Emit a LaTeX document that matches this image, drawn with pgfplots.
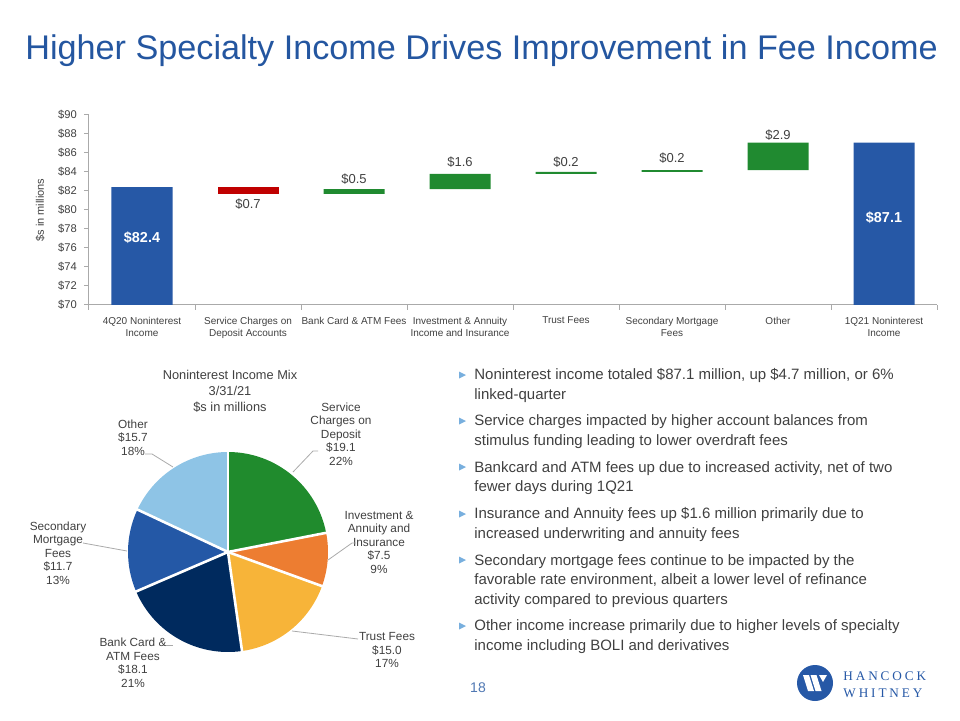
\documentclass[border=0pt]{standalone}
\usepackage{fontspec}
\setmainfont{Liberation Sans}
\newfontfamily\logofont[LetterSpace=22]{Liberation Serif}
\usepackage{pgfplots}
\pgfplotsset{compat=1.18}
\definecolor{titleblue}{RGB}{36,86,160}
\definecolor{barblue}{RGB}{38,88,166}
\definecolor{barred}{RGB}{192,0,0}
\definecolor{bargreen}{RGB}{32,138,48}
\definecolor{txt}{RGB}{64,64,64}
\definecolor{axgray}{RGB}{170,170,170}
\definecolor{pgreen}{RGB}{32,139,45}
\definecolor{porange}{RGB}{237,125,49}
\definecolor{pgold}{RGB}{247,180,57}
\definecolor{pnavy}{RGB}{0,42,94}
\definecolor{pblue}{RGB}{36,88,166}
\definecolor{plight}{RGB}{142,196,230}
\definecolor{bulletc}{RGB}{120,175,222}
\definecolor{leader}{RGB}{170,170,170}
\begin{document}
\begin{tikzpicture}
\path[use as bounding box] (0,0) rectangle (480pt,360pt);
% ---------------- waterfall -----------------
\begin{axis}[
  at={(44.5pt,207.5pt)}, anchor=south west,
  width=424pt, height=95pt, scale only axis,
  xmin=-0.5, xmax=7.5, ymin=70, ymax=90, enlargelimits=false,
  ybar stacked, bar width=30.5pt,
  axis x line*=bottom, axis y line*=left,
  axis line style={axgray, line width=0.5pt},
  ytick={70,72,...,90},
  /pgf/number format/assume math mode=true,
  yticklabel={\$\pgfmathprintnumber{\tick}},
  xtick={0,...,7},
  xticklabels={4Q20 Noninterest\\Income, Service Charges on\\Deposit Accounts, Bank Card \& ATM Fees, Investment \& Annuity\\Income and Insurance, Trust Fees, Secondary Mortgage\\Fees, Other, 1Q21 Noninterest\\Income},
  major x tick style={draw=none},
  minor xtick={-0.5,0.5,...,7.5},
  tick align=outside, major tick length=2.5pt, minor tick length=2.5pt,
  tick style={axgray, line width=0.5pt},
  yticklabel style={font=\fontsize{5.6}{6.5}\selectfont, text=txt},
  xticklabel style={font=\fontsize{5}{6}\selectfont, text=txt, align=center},
  ylabel={\$s in millions},
  ylabel style={font=\fontsize{5.5}{6.5}\selectfont, text=txt},
  after end axis/.code={
    \node[font=\bfseries\fontsize{7.2}{8}\selectfont, text=white] at (axis cs:0,77.05) {\$82.4};
    \node[font=\bfseries\fontsize{7.2}{8}\selectfont, text=white] at (axis cs:7,79.2) {\$87.1};
    \node[font=\fontsize{6.5}{7.5}\selectfont, text=txt] at (axis cs:1,80.6) {\$0.7};
    \node[font=\fontsize{6.5}{7.5}\selectfont, text=txt] at (axis cs:2,83.3) {\$0.5};
    \node[font=\fontsize{6.5}{7.5}\selectfont, text=txt] at (axis cs:3,85.05) {\$1.6};
    \node[font=\fontsize{6.5}{7.5}\selectfont, text=txt] at (axis cs:4,85.05) {\$0.2};
    \node[font=\fontsize{6.5}{7.5}\selectfont, text=txt] at (axis cs:5,85.5) {\$0.2};
    \node[font=\fontsize{6.5}{7.5}\selectfont, text=txt] at (axis cs:6,87.9) {\$2.9};
  },
]
\addplot[fill=none, draw=none] coordinates {(0,0) (1,81.7) (2,81.7) (3,82.2) (4,83.8) (5,84.0) (6,84.2) (7,0)};
\addplot[fill=barblue, draw=none] coordinates {(0,82.4) (1,0) (2,0) (3,0) (4,0) (5,0) (6,0) (7,87.1)};
\addplot[fill=barred, draw=none] coordinates {(0,0) (1,0.7) (2,0) (3,0) (4,0) (5,0) (6,0) (7,0)};
\addplot[fill=bargreen, draw=none] coordinates {(0,0) (1,0) (2,0.5) (3,1.6) (4,0.2) (5,0.2) (6,2.9) (7,0)};
\end{axis}
% ---------------- pie -----------------
\begin{scope}[shift={(114pt,84pt)}, x=0.5pt, y=0.5pt]
\def\total{87.1}
\foreach \v/\c [remember=\e as \s (initially 90)] in {19.1/pgreen, 7.5/porange, 15.0/pgold, 18.1/pnavy, 11.7/pblue, 15.7/plight} {
  \pgfmathsetmacro{\e}{\s - \v/\total*360}
  \fill[\c] (0,0) -- (\s:100) arc[start angle=\s, end angle=\e, radius=100] -- cycle;
}
\foreach \v [remember=\e as \s (initially 90)] in {19.1, 7.5, 15.0, 18.1, 11.7, 15.7} {
  \pgfmathsetmacro{\e}{\s - \v/\total*360}
  \draw[white, line width=1.3pt] (0,0) -- (\s:101);
}
\end{scope}
% ---------------- pixel-space annotations -----------------
\begin{scope}[shift={(0pt,360pt)}, x=0.5pt, y=-0.5pt]
\node[anchor=base west, text=titleblue, font=\fontsize{17.1}{19}\selectfont, inner sep=0pt] at (25,59) {Higher Specialty Income Drives Improvement in Fee Income};
% pie title & labels
\node[align=center, text=txt, font=\fontsize{6.4}{8}\selectfont] at (230,391) {Noninterest Income Mix\\3/31/21\\\$s in millions};
\begin{scope}[every node/.style={align=center, text=txt, font=\fontsize{5.9}{6.75}\selectfont, inner sep=1pt}]
\node at (341,434) {Service\\Charges on\\Deposit\\\$19.1\\22\%};
\node at (379,542) {Investment \&\\Annuity and\\Insurance\\\$7.5\\9\%};
\node at (387,650) {Trust Fees\\\$15.0\\17\%};
\node at (133,663) {Bank Card \&\\ATM Fees\\\$18.1\\21\%};
\node at (58,553) {Secondary\\Mortgage\\Fees\\\$11.7\\13\%};
\node at (133,437.5) {Other\\\$15.7\\18\%};
\end{scope}
\draw[leader, line width=0.4pt] (318,451) -- (313,451) -- (293,472);
\draw[leader, line width=0.4pt] (356,543) -- (352,543) -- (328,560);
\draw[leader, line width=0.4pt] (358,639) -- (292,631);
\draw[leader, line width=0.4pt] (166,645) -- (173,645);
\draw[leader, line width=0.4pt] (83,543) -- (127,551);
\draw[leader, line width=0.4pt] (145,454) -- (152,454) -- (173,467);
% bullets (anchored at the baseline of the last line)
\begin{scope}[every node/.style={anchor=base west, align=left, text=txt, font=\fontsize{7.5}{9.75}\selectfont, inner sep=0pt}]
\node at (474,399) {Noninterest income totaled \$87.1 million, up \$4.7 million, or 6\%\\linked-quarter};
\node at (474,445) {Service charges impacted by higher account balances from\\stimulus funding leading to lower overdraft fees};
\node at (474,491.5) {Bankcard and ATM fees up due to increased activity, net of two\\fewer days during 1Q21};
\node at (474,538) {Insurance and Annuity fees up \$1.6 million primarily due to\\increased underwriting and annuity fees};
\node at (474,604) {Secondary mortgage fees continue to be impacted by the\\favorable rate environment, albeit a lower level of refinance\\activity compared to previous quarters};
\node at (474,650) {Other income increase primarily due to higher levels of specialty\\income including BOLI and derivatives};
\end{scope}
\foreach \yy in {375,421,467,514,560,626} {
  \fill[bulletc] (459,\yy-3.5) -- (466,\yy) -- (459,\yy+3.5) -- cycle;
}
% page number and logo
\node[text=titleblue!80, font=\fontsize{7}{8}\selectfont] at (478,688) {18};
\fill[barblue] (815,683) circle[radius=18];
\fill[white] (803,675) -- (809,675) -- (814,691) -- (808,691) -- cycle;
\fill[white] (810.5,675) -- (816.5,675) -- (821.5,691) -- (815.5,691) -- cycle;
\fill[white] (819,675) -- (827,675) -- (823,682) -- cycle;
\node[anchor=base west, text=barblue, font=\logofont\fontsize{6.6}{7}\selectfont, inner sep=0pt] at (843,680) {HANCOCK};
\node[anchor=base west, text=barblue, font=\logofont\fontsize{6.6}{7}\selectfont, inner sep=0pt] at (843,697) {WHITNEY};
\end{scope}
\end{tikzpicture}
\end{document}
